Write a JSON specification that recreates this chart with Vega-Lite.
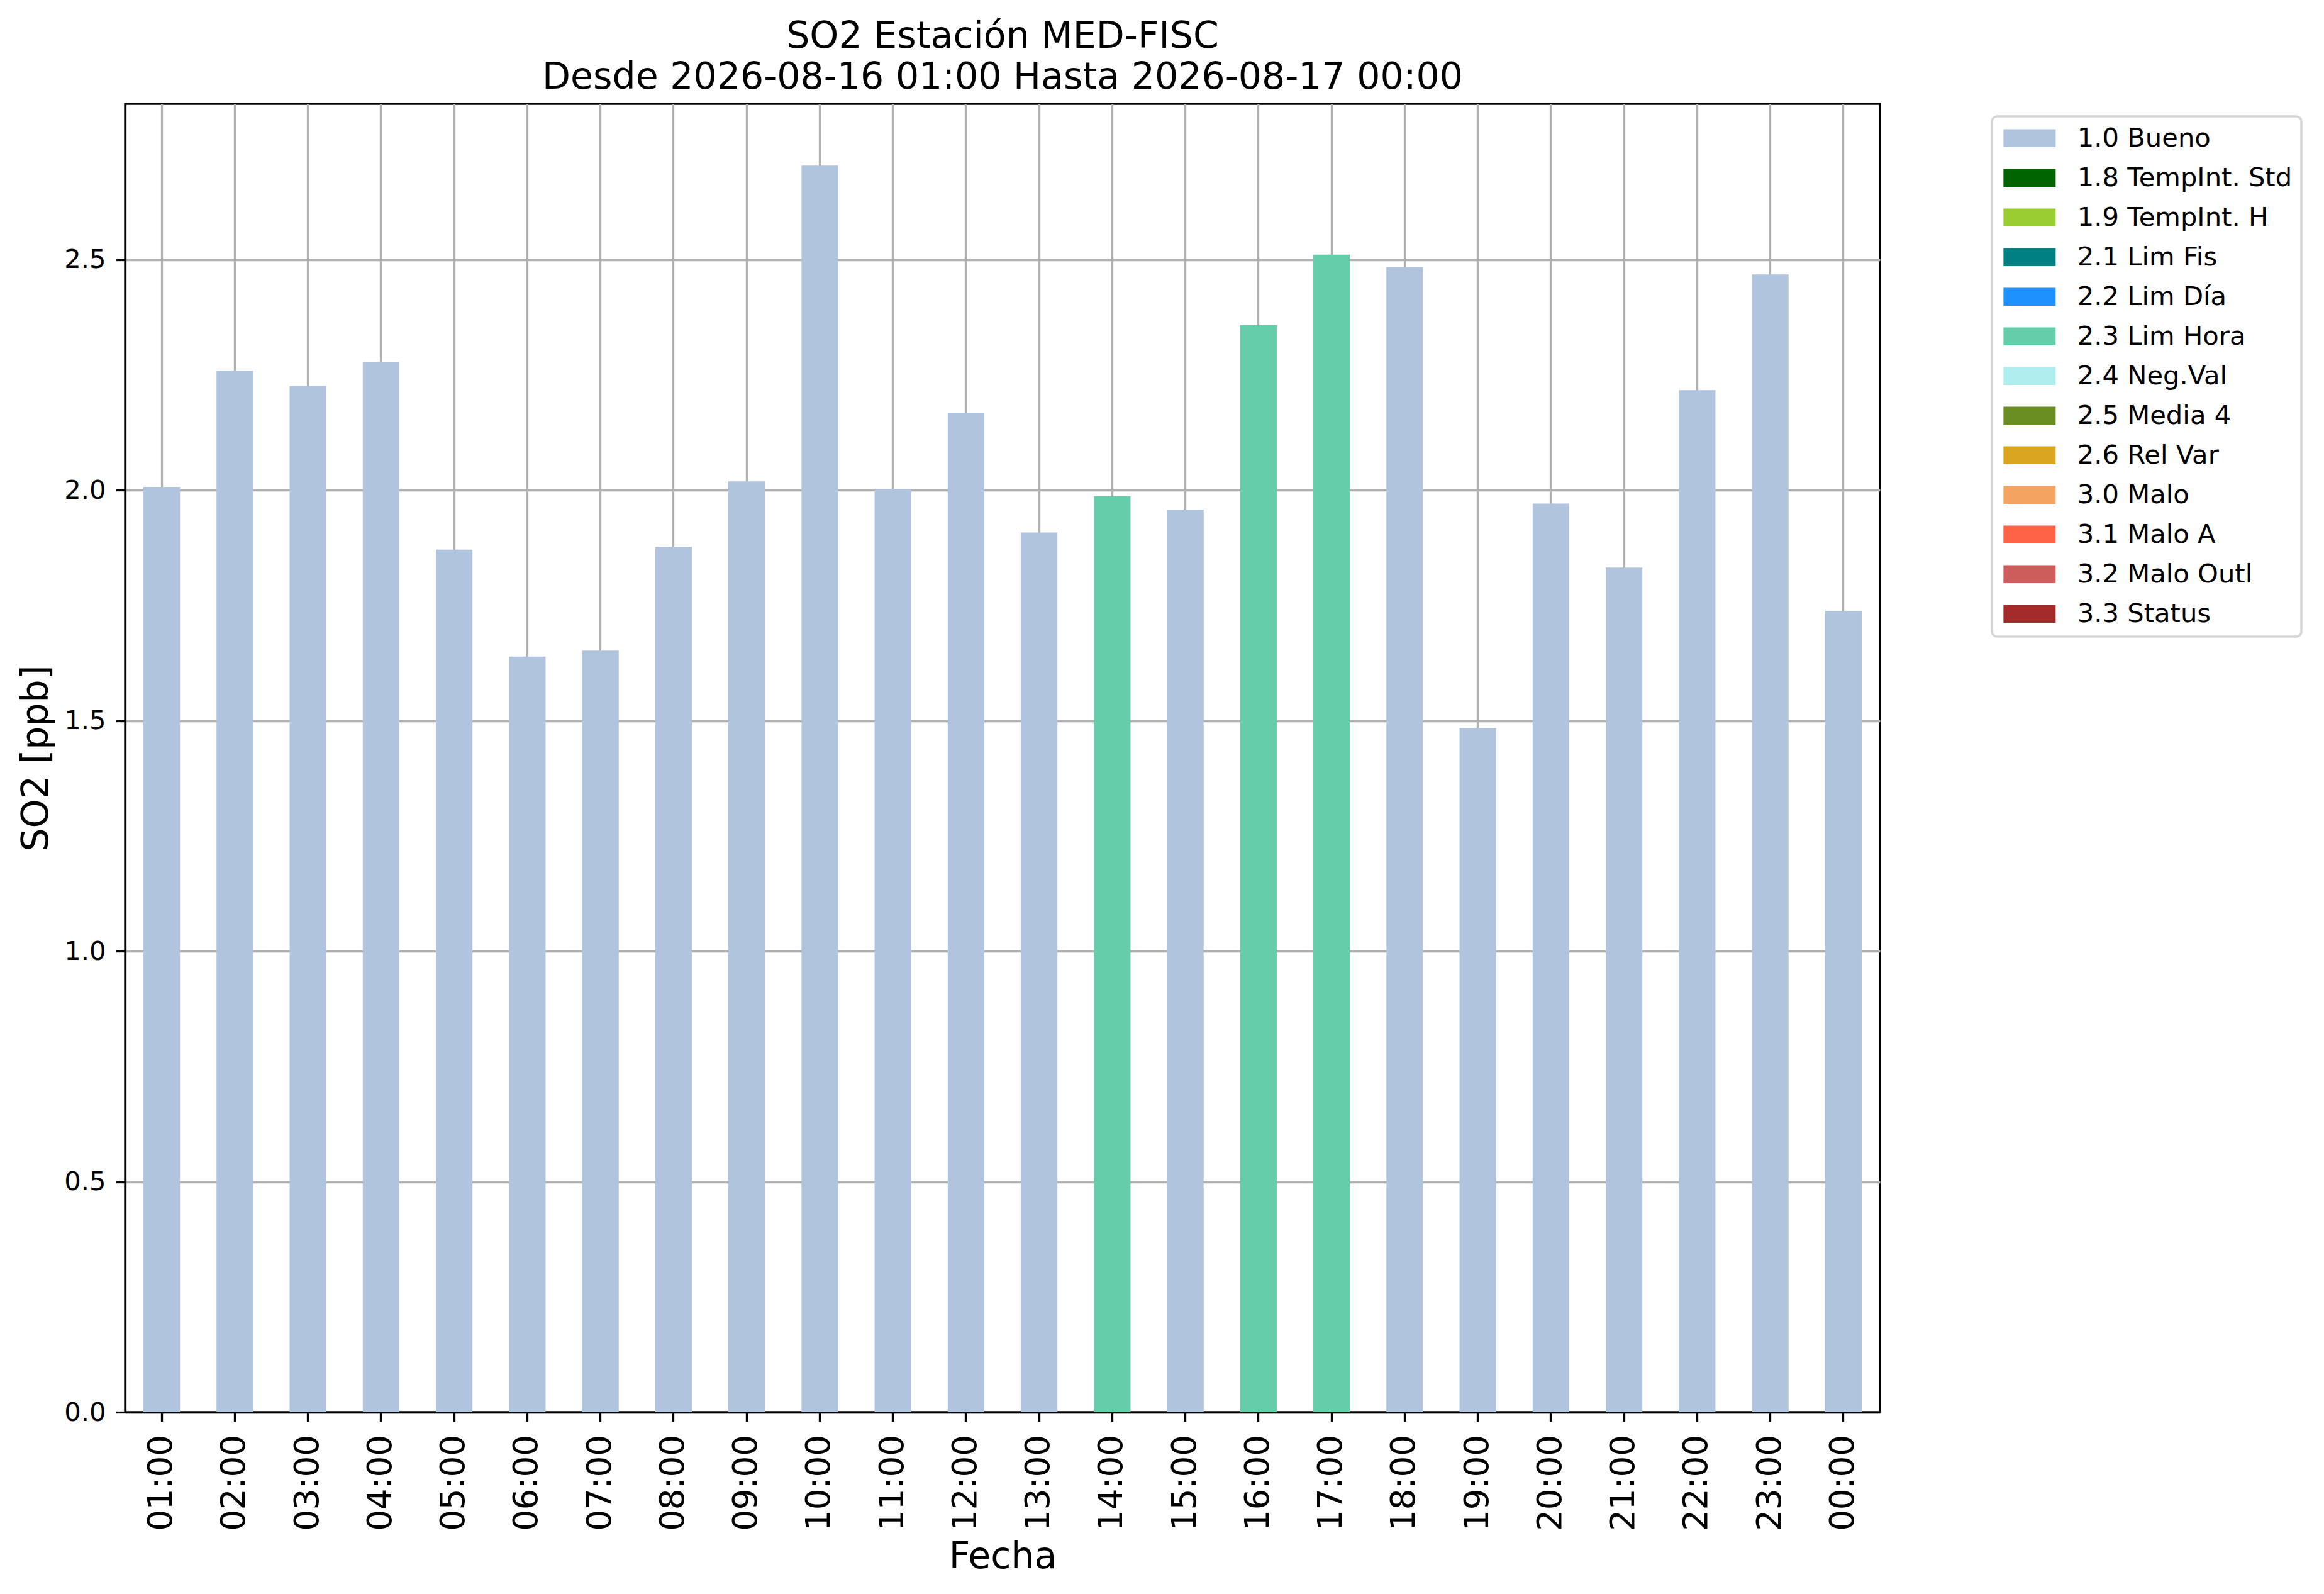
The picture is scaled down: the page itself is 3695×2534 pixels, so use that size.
{
  "$schema": "https://vega.github.io/schema/vega-lite/v6.json",
  "autosize": {"type": "none"},
  "width": 2790,
  "height": 2080,
  "padding": {"left": 199, "top": 165, "right": 706, "bottom": 289},
  "background": "white",
  "title": {
    "text": ["SO2 Estación MED-FISC", "Desde 2026-08-16 01:00 Hasta 2026-08-17 00:00"],
    "font": "DejaVu Sans",
    "fontSize": 58.5,
    "fontWeight": "normal",
    "color": "black",
    "lineHeight": 65,
    "baseline": "bottom",
    "anchor": "middle",
    "frame": "group",
    "offset": -46
  },
  "data": {
    "values": [
      {"hora": "01:00", "so2": 2.007, "flag": "1.0 Bueno"},
      {"hora": "02:00", "so2": 2.259, "flag": "1.0 Bueno"},
      {"hora": "03:00", "so2": 2.226, "flag": "1.0 Bueno"},
      {"hora": "04:00", "so2": 2.278, "flag": "1.0 Bueno"},
      {"hora": "05:00", "so2": 1.871, "flag": "1.0 Bueno"},
      {"hora": "06:00", "so2": 1.639, "flag": "1.0 Bueno"},
      {"hora": "07:00", "so2": 1.652, "flag": "1.0 Bueno"},
      {"hora": "08:00", "so2": 1.877, "flag": "1.0 Bueno"},
      {"hora": "09:00", "so2": 2.019, "flag": "1.0 Bueno"},
      {"hora": "10:00", "so2": 2.704, "flag": "1.0 Bueno"},
      {"hora": "11:00", "so2": 2.003, "flag": "1.0 Bueno"},
      {"hora": "12:00", "so2": 2.168, "flag": "1.0 Bueno"},
      {"hora": "13:00", "so2": 1.908, "flag": "1.0 Bueno"},
      {"hora": "14:00", "so2": 1.987, "flag": "2.3 Lim Hora"},
      {"hora": "15:00", "so2": 1.958, "flag": "1.0 Bueno"},
      {"hora": "16:00", "so2": 2.358, "flag": "2.3 Lim Hora"},
      {"hora": "17:00", "so2": 2.511, "flag": "2.3 Lim Hora"},
      {"hora": "18:00", "so2": 2.484, "flag": "1.0 Bueno"},
      {"hora": "19:00", "so2": 1.484, "flag": "1.0 Bueno"},
      {"hora": "20:00", "so2": 1.971, "flag": "1.0 Bueno"},
      {"hora": "21:00", "so2": 1.832, "flag": "1.0 Bueno"},
      {"hora": "22:00", "so2": 2.217, "flag": "1.0 Bueno"},
      {"hora": "23:00", "so2": 2.468, "flag": "1.0 Bueno"},
      {"hora": "00:00", "so2": 1.738, "flag": "1.0 Bueno"}
    ]
  },
  "mark": {"type": "bar"},
  "encoding": {
    "x": {
      "field": "hora",
      "type": "ordinal",
      "sort": null,
      "scale": {"paddingInner": 0.5, "paddingOuter": 0.25},
      "axis": {
        "title": "Fecha",
        "labelAngle": 270,
        "labelFontSize": 53,
        "labelPadding": 21,
        "grid": true,
        "bandPosition": 0.5,
        "titleFontSize": 58.5,
        "titleBaseline": "alphabetic",
        "titleY": 247
      }
    },
    "y": {
      "field": "so2",
      "type": "quantitative",
      "scale": {"domain": [0, 2.838], "nice": false},
      "axis": {
        "title": "SO2 [ppb]",
        "values": [0, 0.5, 1, 1.5, 2, 2.5],
        "format": ".1f",
        "labelFontSize": 41.7,
        "labelPadding": 16.4,
        "titleFontSize": 58.5,
        "titleAngle": -90,
        "titleBaseline": "alphabetic",
        "titleAlign": "center",
        "titleX": -124,
        "titleY": 1040
      }
    },
    "color": {
      "field": "flag",
      "type": "nominal",
      "scale": {
        "domain": ["1.0 Bueno", "1.8 TempInt. Std", "1.9 TempInt. H", "2.1 Lim Fis", "2.2 Lim Día", "2.3 Lim Hora", "2.4 Neg.Val", "2.5 Media 4", "2.6 Rel Var", "3.0 Malo", "3.1 Malo A", "3.2 Malo Outl", "3.3 Status"],
        "range": ["#B0C4DE", "#006400", "#9ACD32", "#008080", "#1E90FF", "#66CDAA", "#AFEEEE", "#6B8E23", "#DAA520", "#F4A460", "#FF6347", "#CD5C5C", "#A52A2A"]
      },
      "legend": {
        "title": null,
        "orient": "none",
        "legendX": 2968,
        "legendY": 20,
        "padding": 14,
        "rowPadding": 20,
        "symbolType": "M-2.912,-1H2.912V1H-2.912Z",
        "symbolSize": 812.25,
        "symbolStrokeWidth": 0,
        "symbolOpacity": 1,
        "symbolOffset": 25,
        "labelOffset": 55,
        "labelFontSize": 41.7,
        "labelFont": "DejaVu Sans",
        "labelColor": "black",
        "labelLimit": 1000,
        "strokeColor": "#d6d6d6",
        "cornerRadius": 8,
        "fillColor": "white"
      }
    }
  },
  "config": {
    "font": "DejaVu Sans",
    "view": {"stroke": "black", "strokeWidth": 3.3},
    "legend": {"strokeWidth": 3.5},
    "axis": {
      "labelFont": "DejaVu Sans",
      "titleFont": "DejaVu Sans",
      "labelColor": "black",
      "titleColor": "black",
      "titleFontWeight": "normal",
      "domainColor": "black",
      "domainWidth": 3.3,
      "tickColor": "black",
      "tickWidth": 3.3,
      "tickSize": 14.6,
      "gridColor": "#b0b0b0",
      "gridWidth": 3.3,
      "gridOpacity": 1,
      "zindex": 1
    }
  }
}
